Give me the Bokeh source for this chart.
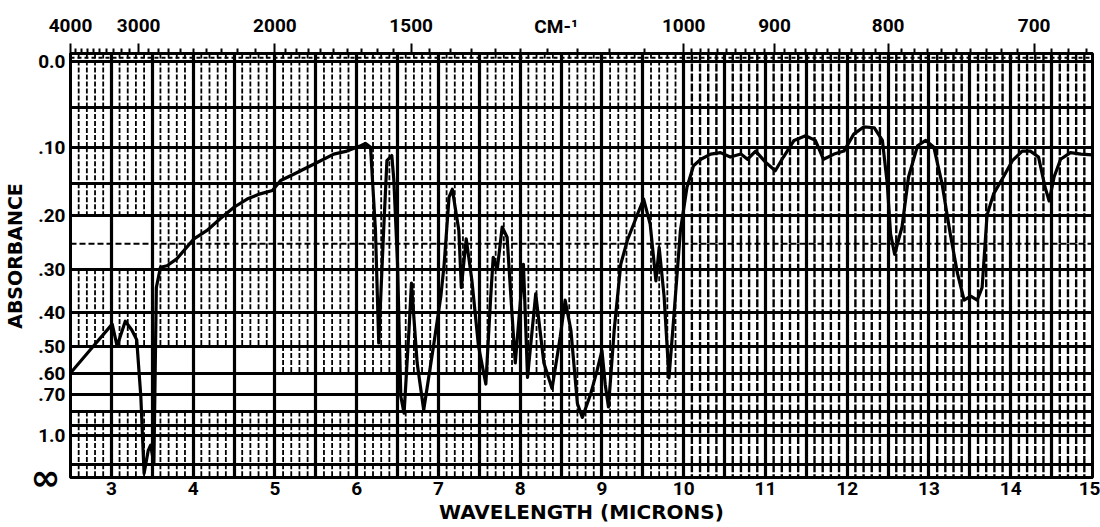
from bokeh.plotting import figure
from bokeh.models import Range1d, LinearAxis, FixedTicker
from bokeh.embed import file_html
from bokeh.resources import INLINE

# ---------------- data ----------------
wavelength = [
    2.50, 2.75, 3.01, 3.07, 3.17, 3.25, 3.31, 3.36, 3.40, 3.45, 3.48, 3.52, 3.55,
    3.60, 3.68, 3.80, 4.01, 4.17, 4.33, 4.50, 4.66, 4.82, 4.97, 5.07, 5.23, 5.40,
    5.56, 5.72, 5.88, 6.05, 6.11, 6.17, 6.23, 6.27, 6.33, 6.37, 6.43, 6.455, 6.50,
    6.54, 6.58, 6.64, 6.67, 6.74, 6.82, 6.94, 7.03, 7.07, 7.13, 7.17, 7.25, 7.28,
    7.34, 7.41, 7.49, 7.58, 7.64, 7.67, 7.72, 7.78, 7.84, 7.90, 7.94, 8.04, 8.09,
    8.19, 8.29, 8.39, 8.49, 8.55, 8.62, 8.70, 8.76, 8.86, 8.94, 9.00, 9.04, 9.08,
    9.15, 9.23, 9.31, 9.43, 9.51, 9.59, 9.66, 9.70, 9.76, 9.82, 9.88, 9.96, 10.04,
    10.12, 10.21, 10.33, 10.45, 10.57, 10.70, 10.78, 10.88, 11.00, 11.12, 11.22,
    11.35, 11.49, 11.61, 11.71, 11.84, 11.96, 12.08, 12.20, 12.33, 12.43, 12.49,
    12.53, 12.58, 12.67, 12.75, 12.86, 12.96, 13.06, 13.16, 13.26, 13.35, 13.43,
    13.51, 13.59, 13.65, 13.71, 13.79, 13.91, 14.02, 14.14, 14.24, 14.34, 14.42,
    14.47, 14.53, 14.61, 14.73, 14.86, 15.00,
]
absorbance = [
    0.60, 0.51, 0.433, 0.50, 0.425, 0.45, 0.48, 0.71, 2.0, 1.19, 1.11, 1.47, 0.34,
    0.296, 0.293, 0.279, 0.241, 0.226, 0.206, 0.187, 0.174, 0.166, 0.161, 0.146,
    0.137, 0.127, 0.118, 0.109, 0.105, 0.098, 0.095, 0.100, 0.226, 0.49, 0.226,
    0.118, 0.111, 0.146, 0.289, 0.71, 0.81, 0.45, 0.33, 0.56, 0.79, 0.50, 0.36,
    0.29, 0.171, 0.159, 0.226, 0.34, 0.241, 0.325, 0.50, 0.648, 0.36, 0.276, 0.30,
    0.22, 0.238, 0.405, 0.56, 0.29, 0.618, 0.355, 0.56, 0.67, 0.47, 0.37, 0.45,
    0.75, 0.84, 0.70, 0.59, 0.515, 0.65, 0.77, 0.45, 0.29, 0.244, 0.20, 0.174,
    0.215, 0.325, 0.257, 0.36, 0.62, 0.41, 0.226, 0.156, 0.125, 0.116, 0.109,
    0.107, 0.113, 0.109, 0.116, 0.105, 0.12, 0.132, 0.113, 0.091, 0.085, 0.091,
    0.116, 0.109, 0.105, 0.083, 0.074, 0.075, 0.091, 0.151, 0.232, 0.27, 0.22,
    0.141, 0.098, 0.091, 0.10, 0.151, 0.232, 0.31, 0.37, 0.36, 0.37, 0.34, 0.20,
    0.166, 0.141, 0.118, 0.105, 0.105, 0.113, 0.156, 0.177, 0.141, 0.116, 0.107,
    0.109, 0.11,
]

abs_ticks = [0.0, 0.1, 0.2, 0.3, 0.4, 0.5, 0.6, 0.7, 1.0]
abs_tick_labels = ["0.0", ".10", ".20", ".30", ".40", ".50", ".60", ".70", "1.0"]
abs_minor_lines = [0.05, 0.15, 0.8, 0.9, 1.5]
abs_dashed_lines = [0.25]
micron_ticks = [3, 4, 5, 6, 7, 8, 9, 10, 11, 12, 13, 14, 15]
wavenumber_ticks = [4000, 3000, 2000, 1500, 1000, 900, 800, 700]
wavenumber_minor = (list(range(4000, 2000, -100)) + list(range(2000, 1000, -50))
                    + list(range(1000, 660, -10)))

x_title = "WAVELENGTH (MICRONS)"
y_title = "\u2003ABSORBANCE"
top_title = "CM-\u00b9"
infinity_label = "\u221e"
top_title_pos = 8.44


def to_t(a):
    return round(10 ** (-a), 5)


transmittance = [to_t(a) for a in absorbance]

FONT = "Roboto"
TITLE_FONT = "DejaVu Sans"

p = figure(width=1100, height=527, x_range=Range1d(2.5, 15), y_range=Range1d(0, 1.02),
           output_backend="svg", toolbar_location=None,
           min_border_left=70, min_border_right=8, min_border_top=53, min_border_bottom=50)
p.background_fill_color = "white"
p.border_fill_color = "white"
p.outline_line_color = "black"
p.outline_line_width = 3

# ---------------- grid ----------------
heavy_x = [2.5 + 0.5 * i for i in range(26)]
p.xgrid.ticker = FixedTicker(ticks=heavy_x)
p.xgrid.grid_line_color = "black"
p.xgrid.grid_line_width = 3.2
p.xgrid.grid_line_alpha = 1
p.ygrid.ticker = FixedTicker(ticks=[to_t(a) for a in abs_ticks] + [to_t(a) for a in abs_minor_lines])
p.ygrid.grid_line_color = "black"
p.ygrid.grid_line_width = 2.8
p.ygrid.grid_line_alpha = 1

for a in abs_dashed_lines:
    p.segment(x0=[2.5], y0=[to_t(a)], x1=[15], y1=[to_t(a)], line_color="black",
              line_width=2, line_dash="6 3")
p.segment(x0=[2.5], y0=[1.0096], x1=[15], y1=[1.0096], line_color="black",
          line_width=2, line_dash="4 3")

# thin vertical lines every 0.1 micron, style varying by band (scan appearance)
bands = [0.0, 0.05, 0.1, 0.15, 0.2, 0.25, 0.3, 0.4, 0.5, 0.6, 0.7, 0.8, 0.9, 1.0, 1.5, None]
light = dict(x0=[], y0=[], x1=[], y1=[])
dense = dict(x0=[], y0=[], x1=[], y1=[])
for i in range(126):
    if i % 5 == 0:
        continue
    x = round(2.5 + 0.1 * i, 2)
    for k in range(len(bands) - 1):
        lo, hi = bands[k], bands[k + 1]
        y_top = 1.02 if lo == 0.0 else to_t(lo)
        y_bot = 0.0 if hi is None else to_t(hi)
        if (x < 8.3 and 0.6 <= lo < 0.8) or (x < 5 and 0.5 <= lo < 0.6) or (x < 3.5 and 0.2 <= lo < 0.3):
            continue
        d = dense if x > 10 else light
        d["x0"].append(x); d["x1"].append(x)
        d["y0"].append(y_top); d["y1"].append(y_bot)

p.segment(x0="x0", y0="y0", x1="x1", y1="y1", source=light, line_color="black",
          line_width=1.8, line_dash="5 2")
p.segment(x0="x0", y0="y0", x1="x1", y1="y1", source=dense, line_color="black",
          line_width=2.4, line_dash="8 2")

# ---------------- spectrum ----------------
p.line(wavelength, transmittance, line_color="black", line_width=3.2, line_join="round")


def style_labels(ax, size="19px", font=FONT):
    ax.major_label_text_font = font
    ax.major_label_text_font_style = "bold"
    ax.major_label_text_font_size = size
    ax.major_label_text_color = "black"


# ---------------- axes ----------------
xa = p.xaxis[0]
xa.ticker = FixedTicker(ticks=micron_ticks)
xa.major_tick_out = 0
xa.major_tick_in = 0
xa.minor_tick_out = 0
xa.minor_tick_in = 0
xa.axis_line_width = 3
xa.major_label_standoff = 4
style_labels(xa)
xa.axis_label = x_title
xa.axis_label_standoff = 2
xa.axis_label_text_font = TITLE_FONT
xa.axis_label_text_font_style = "bold"
xa.axis_label_text_font_size = "20px"
xa.axis_label_text_color = "black"

ya = p.yaxis[0]
t_ticks = [to_t(a) for a in abs_ticks]
ya.ticker = FixedTicker(ticks=t_ticks)
ya.major_label_overrides = {t: lab for t, lab in zip(t_ticks, abs_tick_labels)}
ya.major_tick_out = 0
ya.major_tick_in = 0
ya.minor_tick_out = 0
ya.minor_tick_in = 0
ya.axis_line_width = 3
ya.major_label_standoff = 5
style_labels(ya)

# outer left axis: the infinity mark (larger glyph) and the axis title
inf_axis = LinearAxis(ticker=FixedTicker(ticks=[0.0]))
inf_axis.major_label_overrides = {0.0: infinity_label}
inf_axis.axis_line_color = None
inf_axis.major_tick_out = 0
inf_axis.major_tick_in = 0
inf_axis.minor_tick_out = 0
inf_axis.minor_tick_in = 0
inf_axis.major_label_standoff = -25
style_labels(inf_axis, size="36px", font=TITLE_FONT)
inf_axis.axis_label = y_title
inf_axis.axis_label_standoff = 2
inf_axis.axis_label_text_font = TITLE_FONT
inf_axis.axis_label_text_font_style = "bold"
inf_axis.axis_label_text_font_size = "19px"
inf_axis.axis_label_text_color = "black"
p.add_layout(inf_axis, "left")

wn_pos = [round(10000.0 / w, 5) for w in wavenumber_ticks]
wn_minor = [round(10000.0 / w, 5) for w in wavenumber_minor if round(10000.0 / w, 5) not in wn_pos]
top = LinearAxis(ticker=FixedTicker(ticks=wn_pos, minor_ticks=wn_minor))
top.major_label_overrides = {pos: str(w) for pos, w in zip(wn_pos, wavenumber_ticks)}
top.major_tick_out = 10
top.major_tick_in = 0
top.minor_tick_out = 5
top.minor_tick_in = 0
top.major_tick_line_width = 2
top.minor_tick_line_width = 2
top.axis_line_width = 3
top.major_label_standoff = 12
style_labels(top)
p.add_layout(top, "above")

# outer top axis holding only the "CM-1" caption, pulled down to the label row
cm_axis = LinearAxis(ticker=FixedTicker(ticks=[top_title_pos], minor_ticks=[]))
cm_axis.major_label_overrides = {top_title_pos: top_title}
cm_axis.axis_line_color = None
cm_axis.major_tick_out = 0
cm_axis.major_tick_in = 0
cm_axis.minor_tick_out = 0
cm_axis.minor_tick_in = 0
cm_axis.major_label_standoff = -22
style_labels(cm_axis)
p.add_layout(cm_axis, "above")

open("out.html", "w").write(file_html(p, INLINE))
